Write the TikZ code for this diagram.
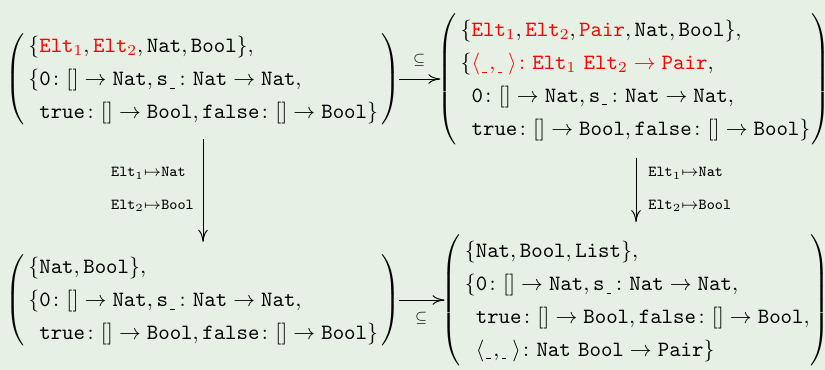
\documentclass[tikz,border=0pt]{standalone}
\usepackage{amsmath,amssymb}
\usetikzlibrary{arrows.meta,calc}

\definecolor{bgcol}{RGB}{230,240,228}
\newcommand{\hl}[1]{{\color{red}#1}}
\newcommand{\hole}{\sb{\kern1pt\rule{2.1pt}{0.4pt}\kern0.6pt}}
\newcommand{\ty}[1]{\mathtt{#1}}
\renewcommand{\arraystretch}{1.26}
% a signature set between tall parentheses (optional: right padding)
\newcommand{\signature}[2][1.6pt]{$\left(\kern1.8pt\begin{array}{@{}l@{}}#2\end{array}\kern#1\right)$}

\tikzset{
  sig/.style={inner sep=0pt, outer sep=1.5pt, font=\fontsize{10}{12}\selectfont},
  morph/.style={-{Computer Modern Rightarrow[length=5.5pt,width=4.4pt]}, line width=0.45pt},
  maplabel/.style={inner sep=0pt, align=left, font=\fontsize{7.5}{9}\selectfont},
  inclabel/.style={inner sep=0pt, font=\fontsize{6}{7}\selectfont}
}

\begin{document}
\begin{tikzpicture}[x=0.4587pt, y=-0.4587pt]
  \fill[bgcol] (0,0) rectangle (825,370);
  \useasboundingbox (0,0) rectangle (825,370);

  % source signature
  \node[sig] (tl) at (203,79) {\signature{
    \{\hl{\ty{Elt}_1}, \hl{\ty{Elt}_2}, \ty{Nat}, \ty{Bool}\},\\
    \{\ty{0}\colon [] \to \ty{Nat}, \ty{s}\hole\colon \ty{Nat} \to \ty{Nat},\\
    \hphantom{\{}\ty{true}\colon [] \to \ty{Bool}, \ty{false}\colon [] \to \ty{Bool}\}}};

  % signature extended with pairs
  \node[sig] (tr) at (634,79) {\signature[0.4pt]{
    \{\hl{\ty{Elt}_1}, \hl{\ty{Elt}_2}, \hl{\ty{Pair}}, \ty{Nat}, \ty{Bool}\},\\
    \{\hl{\langle\hole,\hole\rangle\colon \ty{Elt}_1\ \ty{Elt}_2 \to \ty{Pair}},\\
    \hphantom{\{}\ty{0}\colon [] \to \ty{Nat}, \ty{s}\hole\colon \ty{Nat} \to \ty{Nat},\\
    \hphantom{\{}\ty{true}\colon [] \to \ty{Bool}, \ty{false}\colon [] \to \ty{Bool}\}}};

  % instantiated signature
  \node[sig] (bl) at (203,300) {\signature{
    \{\ty{Nat}, \ty{Bool}\},\\
    \{\ty{0}\colon [] \to \ty{Nat}, \ty{s}\hole\colon \ty{Nat} \to \ty{Nat},\\
    \hphantom{\{}\ty{true}\colon [] \to \ty{Bool}, \ty{false}\colon [] \to \ty{Bool}\}}};

  % target signature
  \node[sig] (br) at (636,300) {\signature[0.6pt]{
    \{\ty{Nat}, \ty{Bool}, \ty{List}\},\\
    \{\ty{0}\colon [] \to \ty{Nat}, \ty{s}\hole\colon \ty{Nat} \to \ty{Nat},\\
    \hphantom{\{}\ty{true}\colon [] \to \ty{Bool}, \ty{false}\colon [] \to \ty{Bool},\\
    \hphantom{\{}\langle\hole,\hole\rangle\colon \ty{Nat}\ \ty{Bool} \to \ty{Pair}\}}};

  % inclusions
  \draw[morph, shorten <=-2.3pt, shorten >=-2.7pt] (tl.east) -- (tl.east -| tr.west)
    node[inclabel, midway, above=5.6pt] (inc1) {$\subseteq$};
  \draw[morph, shorten <=-2.3pt, shorten >=-2.7pt] (bl.east) -- (bl.east -| br.west)
    node[inclabel, midway, below=5.6pt] (inc2) {$\subseteq$};

  % instantiation maps
  \draw[morph, shorten <=3.5pt, shorten >=2.5pt] (tl.south) -- (tl.south |- bl.north)
    node[maplabel, midway, left=4pt] (map1)
    {$\ty{Elt}_1{\mapsto}\ty{Nat}$\\[5.8pt]$\ty{Elt}_2{\mapsto}\ty{Bool}$};
  \coordinate (trs) at ($(tr.south)+(2,0)$);
  \draw[morph, shorten <=4.5pt, shorten >=4pt] (trs) -- (trs |- br.north)
    node[maplabel, midway, right=5.5pt] (map2)
    {$\ty{Elt}_1{\mapsto}\ty{Nat}$\\[5.8pt]$\ty{Elt}_2{\mapsto}\ty{Bool}$};
\end{tikzpicture}
\end{document}
